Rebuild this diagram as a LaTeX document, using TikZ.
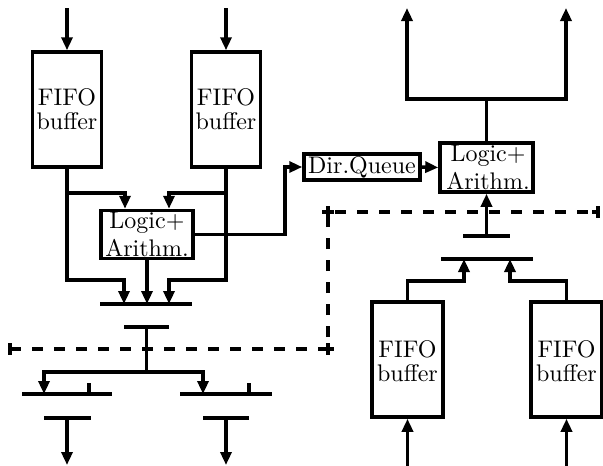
\documentclass[tikz,border=0pt]{standalone}
\usetikzlibrary{arrows.meta,calc}
\begin{document}
\begin{tikzpicture}[x=1pt,y=-1pt,line width=3.5pt,
  box/.style={draw,line width=3.5pt,inner sep=0pt,
    minimum width=69pt,minimum height=115pt},
  lbox/.style={draw,line width=3.5pt,inner sep=0pt,minimum width=92pt,minimum height=48pt},
  qbox/.style={draw,line width=3.5pt,inner sep=0pt,minimum width=116pt,minimum height=26pt},
  txt/.style={scale=2.4,align=center,inner sep=0pt,font=\fontsize{10}{10}\selectfont},
  ltxt/.style={scale=2.4,align=center,inner sep=0pt,font=\fontsize{10}{11.67}\selectfont},
  arr/.style={-{Triangle[length=13pt,width=11pt]}},
  dline/.style={line width=3.5pt,dash pattern=on 11pt off 11pt},
  plusmark/.pic={\draw[line width=3.5pt] (-6,0)--(6,0) (0,-6)--(0,6);},
  endmarkL/.pic={\draw[line width=3.5pt] (0,-6)--(0,6) (0,0)--(6,0);},
  endmarkR/.pic={\draw[line width=3.5pt] (0,-6)--(0,6) (0,0)--(-6,0);}]
\useasboundingbox (0,0) rectangle (603,466);

% ---------- left part ----------
\node[box] (f1) at (67,109.5) {};
\node[txt] (f1t) at (f1.center) {FIFO\\buffer};
\node[box] (f2) at (226,109.5) {};
\node[txt] (f2t) at (f2.center) {FIFO\\buffer};
\node[lbox] (lg1) at (147,234.5) {};
\node[ltxt] (lg1t) at (lg1.center) {Logic+\\Arithm.};

\coordinate (i1) at (67,8);
\coordinate (i2) at (226,8);
\draw[arr] (i1) -- (f1.north);
\draw[arr] (i2) -- (f2.north);

\draw[arr] ($(f1.south)+(0,24)$) -| ($(lg1.north)+(-22,0)$);
\draw[arr] ($(f2.south)+(0,24)$) -| ($(lg1.north)+(22,0)$);

\coordinate (b1w) at (100,304);
\coordinate (b1e) at (192,304);
\coordinate (b1a) at (124,304);
\coordinate (b1b) at (147,304);
\coordinate (b1c) at (169,304);
\draw (b1w) -- (b1e);
\draw[arr] (f1.south) |- ($(b1a)+(0,-24)$) -- (b1a);
\draw[arr] (f2.south) |- ($(b1c)+(0,-24)$) -- (b1c);
\draw[arr] (lg1.south) -- (b1b);

% T below first bus
\coordinate (t1w) at (124,327);
\coordinate (t1e) at (169,327);
\coordinate (t1) at (146.5,327);
\coordinate (s1) at (146.5,372);
\draw (t1w) -- (t1e);
\draw (t1) -- (s1);

\coordinate (b2a) at (44,394);
\coordinate (b3a) at (203,394);
\draw[arr] (s1) -| (b2a);
\draw[arr] (s1) -| (b3a);

\coordinate (b2w) at (22,394);
\coordinate (b2e) at (112,394);
\coordinate (k2) at (89,383);
\coordinate (k2b) at (89,394);
\draw (b2w) -- (b2e);
\draw (k2) -- (k2b);

\coordinate (b3w) at (180,394);
\coordinate (b3e) at (272,394);
\coordinate (k3) at (249,383);
\coordinate (k3b) at (249,394);
\draw (b3w) -- (b3e);
\draw (k3) -- (k3b);

\coordinate (t2w) at (44,418);
\coordinate (t2e) at (91,418);
\coordinate (t2) at (67,418);
\coordinate (e2) at (67,465);
\draw (t2w) -- (t2e);
\draw[arr] (t2) -- (e2);

\coordinate (t3w) at (203,418);
\coordinate (t3e) at (249,418);
\coordinate (t3) at (226,418);
\coordinate (e3) at (226,465);
\draw (t3w) -- (t3e);
\draw[arr] (t3) -- (e3);

% ---------- right part ----------
\node[qbox] (dq) at (362,167) {};
\node[txt] (dqt) at (dq.center) {Dir.Queue};
\node[lbox,minimum width=93pt,minimum height=49pt] (lg2) at (486.5,167.5) {};
\node[ltxt] (lg2t) at ([xshift=1.5pt]lg2.center) {Logic+\\Arithm.};
\node[box,minimum width=71pt] (f3) at (407.5,359.5) {};
\node[txt] (f3t) at ([yshift=-2pt]f3.center) {FIFO\\buffer};
\node[box,minimum width=71pt] (f4) at (566.5,359.5) {};
\node[txt] (f4t) at ([yshift=-2pt]f4.center) {FIFO\\buffer};

\draw[arr] (lg1.east) -- ++(90,0) |- (dq.west);
\draw[arr] (dq.east) -- (lg2.west);

\coordinate (sp) at (486.5,99);
\coordinate (o1) at (407,8);
\coordinate (o2) at (566,8);
\draw (lg2.north) -- (sp);
\draw[arr] (sp) -| (o1);
\draw[arr] (sp) -| (o2);

\coordinate (t4w) at (463,236);
\coordinate (t4e) at (510,236);
\coordinate (t4) at (486.5,236);
\draw (t4w) -- (t4e);
\draw[arr] (t4) -- (lg2.south);

\coordinate (b4w) at (441,259);
\coordinate (b4e) at (533,259);
\coordinate (b4a) at (464,259);
\coordinate (b4b) at (510,259);
\draw (b4w) -- (b4e);
\draw[arr] (f3.north) |- ($(b4a)+(0,22)$) -- (b4a);
\draw[arr] (f4.north) |- ($(b4b)+(0,22)$) -- (b4b);

\coordinate (j3) at (407.5,466);
\coordinate (j4) at (566.5,466);
\draw[arr] (j3) -- (f3.south);
\draw[arr] (j4) -- (f4.south);

% ---------- dashed boundary ----------
\coordinate (d1) at (10,349);
\coordinate (d2) at (328,349);
\coordinate (d3) at (328,212);
\coordinate (d4) at (598,212);
\draw[dline] (d1) -- (d2) -- (d3) -- (d4);
\pic at (d1) {endmarkL};
\pic at (d2) {plusmark};
\pic at (d3) {plusmark};
\pic at (d4) {endmarkR};
\end{tikzpicture}
\end{document}
